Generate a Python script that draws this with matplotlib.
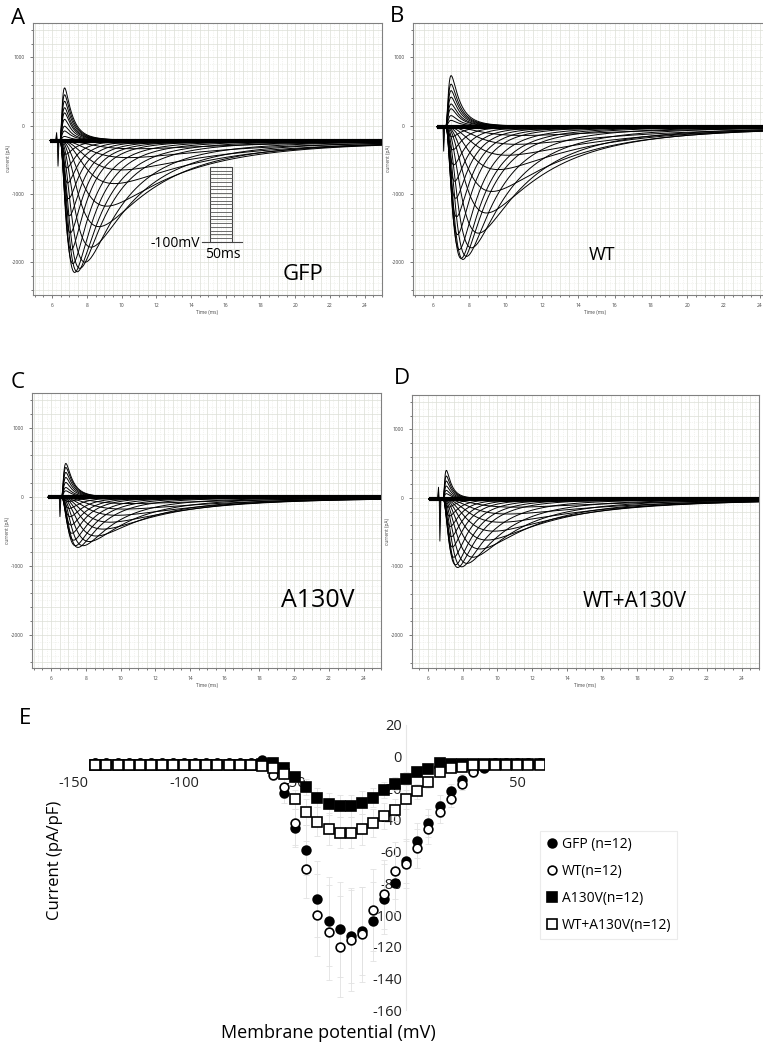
import numpy as np
import matplotlib.pyplot as plt
from matplotlib.ticker import MultipleLocator

plt.rcParams['font.family'] = ['Open Sans', 'DejaVu Sans']
plt.rcParams['axes.unicode_minus'] = False

W, H = 763, 1047

# ---- current traces (A-D): peak current (pA, relative to holding) and time of peak (ms)
gfp_peak_pA = [-40, -120, -250, -430, -630, -960, -1260, -1560, -1780, -1870, -1920, -1930,
               -1800, -1600, -1350, -1100, -850, -620, -400, -200,
               60, 140, 210, 310, 405, 480, 575, 670, 770]
gfp_peak_ms = [11.0, 10.8, 10.4, 10.0, 9.6, 9.15, 8.7, 8.25, 7.9, 7.6, 7.45, 7.3,
               7.2, 7.1, 7.05, 7.0, 6.95, 6.9, 6.85, 6.8,
               6.72, 6.72, 6.72, 6.72, 6.72, 6.72, 6.72, 6.72, 6.72]

wt_peak_pA = [-40, -130, -260, -420, -630, -950, -1265, -1560, -1775, -1900, -1945, -1930,
              -1800, -1580, -1320, -1050, -800, -560, -340, -150,
              90, 160, 260, 330, 430, 525, 620, 745]
wt_peak_ms = [11.5, 11.0, 10.6, 10.1, 9.6, 9.25, 8.95, 8.5, 8.12, 7.85, 7.65, 7.55,
              7.45, 7.35, 7.3, 7.25, 7.2, 7.15, 7.1, 7.05,
              7.0, 7.0, 7.0, 7.0, 7.0, 7.0, 7.0, 7.0]

a130v_peak_pA = [-30, -90, -170, -260, -360, -460, -560, -640, -700, -725,
                 -700, -620, -520, -400, -280, -160, -60,
                 94, 142, 215, 287, 360, 432, 490]
a130v_peak_ms = [11.0, 10.6, 10.2, 9.8, 9.4, 9.0, 8.6, 8.2, 7.85, 7.55,
                 7.4, 7.3, 7.2, 7.15, 7.1, 7.05, 7.0,
                 6.85, 6.85, 6.85, 6.85, 6.85, 6.85, 6.85]

wta_peak_pA = [-40, -120, -220, -340, -470, -600, -730, -850, -940, -990, -1000,
               -960, -850, -700, -550, -400, -250, -120,
               77, 125, 188, 261, 334, 416]
wta_peak_ms = [11.5, 11.0, 10.6, 10.2, 9.8, 9.4, 9.0, 8.6, 8.25, 7.95, 7.72,
               7.6, 7.5, 7.42, 7.36, 7.3, 7.25, 7.2,
               7.07, 7.07, 7.07, 7.07, 7.07, 7.07]

# holding current, trace start, current onset, artifact time / up / down (pA)
panel_base = [-220, -15, -10, -15]
panel_start = [5.9, 6.2, 5.84, 6.08]
panel_onset = [6.45, 6.7, 6.6, 6.88]
artifact_ms = [6.3, 6.55, 6.47, 6.66]
artifact_up = [120, 20, 30, 175]
artifact_dn = [-380, -365, -285, -620]
panel_names = ["GFP", "WT", "A130V", "WT+A130V"]

# ---- I-V relation (E)
voltage = [-140, -135, -130, -125, -120, -115, -110, -105, -100, -95, -90, -85, -80, -75,
           -70, -65, -60, -55, -50, -45, -40, -35, -30, -25, -20, -15, -10, -5, 0,
           5, 10, 15, 20, 25, 30, 35, 40, 45, 50, 55, 60]
gfp_iv = [-4, -4, -4, -4, -4, -4, -4, -4, -4, -4, -4, -4, -4, -4,
          -4, -2, -9, -23, -45, -59, -90, -104, -109, -113, -110, -104, -90, -80, -66,
          -53, -42, -31, -22, -15, -9, -7, -4, -4, -4, -4, -4]
wt_iv = [-4, -4, -4, -4, -4, -4, -4, -4, -4, -4, -4, -4, -4, -4,
         -4, -5, -11.5, -19, -42, -71, -100, -111, -120, -116, -112, -97, -87, -72, -68,
         -58, -46, -35, -27, -17, -10, -6, -4, -4, -4, -4, -4]
a130v_iv = [-5, -5, -5, -5, -5, -5, -5, -5, -5, -5, -5, -5, -5, -5,
            -5, -4.5, -4, -7, -13, -19, -26, -30, -31, -31, -29, -26, -21, -17, -14,
            -10, -8, -4, -4.5, -4.5, -4.5, -4.5, -4.5, -4.5, -4.5, -4.5, -4.5]
wta_iv = [-5, -5, -5, -5, -5, -5, -5, -5, -5, -5, -5, -5, -5, -5,
          -5, -5.7, -7, -11, -27, -35, -41, -45.5, -48, -48, -46, -42, -37.5, -33.5, -27,
          -22, -16, -10, -7, -6.3, -5, -5, -5, -5, -5, -5, -5]
gfp_sem = [1, 1, 1, 1, 1, 1, 1, 1, 1, 1, 1, 1, 1, 1,
           1, 1, 3, 6, 12, 16, 24, 28, 30, 30, 28, 25, 22, 18, 14,
           11, 9, 7, 5, 4, 3, 2, 1, 1, 1, 1, 1]
wt_sem = [1, 1, 1, 1, 1, 1, 1, 1, 1, 1, 1, 1, 1, 1,
          1, 1, 3, 7, 14, 18, 26, 30, 32, 32, 30, 26, 22, 18, 15,
          12, 9, 7, 5, 4, 3, 2, 1, 1, 1, 1, 1]
a130v_sem = [1, 1, 1, 1, 1, 1, 1, 1, 1, 1, 1, 1, 1, 1,
             1, 1, 1, 2, 3, 5, 6, 7, 7, 7, 7, 6, 5, 4, 4,
             3, 2, 1, 1, 1, 1, 1, 1, 1, 1, 1, 1]
wta_sem = [1, 1, 1, 1, 1, 1, 1, 1, 1, 1, 1, 1, 1, 1,
           1, 1, 1, 3, 6, 8, 9, 10, 10, 10, 10, 9, 8, 7, 6,
           5, 4, 3, 2, 2, 1, 1, 1, 1, 1, 1, 1]

# m^3 h style current template
K_H = 4.0
F_SLOW = 0.1


def shape(x):
    x = np.clip(x, 0, None)
    return (1 - np.exp(-x)) ** 3 * ((1 - F_SLOW) * np.exp(-x / K_H) + F_SLOW * np.exp(-x / (3 * K_H)))


_xg = np.linspace(0, 20, 20001)
_sg = shape(_xg)
X_PEAK = _xg[np.argmax(_sg)]
S_PEAK = _sg.max()


def px_axes(fig, l, t, r, b):
    return fig.add_axes([l / W, 1 - b / H, (r - l) / W, (b - t) / H])


def style_trace_axes(ax, x0):
    ax.set_xlim(x0, 25)
    ax.set_ylim(-2480, 1500)
    ax.xaxis.set_major_locator(MultipleLocator(2))
    ax.xaxis.set_minor_locator(MultipleLocator(0.5))
    ax.yaxis.set_major_locator(MultipleLocator(1000))
    ax.yaxis.set_minor_locator(MultipleLocator(200))
    for tq in np.arange(5.0, 25.01, 0.5):
        ax.axvline(tq, color='#dcdfd6', lw=0.5, zorder=0)
        ax.axvline(tq + 0.25, color='#e8eae3', lw=0.5, ls=':', zorder=0)
    for iq in np.arange(-2400, 1401, 200):
        ax.axhline(iq, color='#dcdfd6', lw=0.5, zorder=0)
        ax.axhline(iq + 100, color='#e8eae3', lw=0.5, ls=':', zorder=0)
    ax.tick_params(which='both', labelsize=3.5, colors='#444', width=0.5, direction='out')
    ax.tick_params(which='major', length=2.5)
    ax.tick_params(which='minor', length=1.5)
    for s in ax.spines.values():
        s.set_color('#808080')
        s.set_linewidth(0.8)
    ax.set_xlabel("Time (ms)", fontsize=3.5, labelpad=1, color='#444')
    ax.set_ylabel("current (pA)", fontsize=3.5, labelpad=1, color='#444')


def draw_traces(ax, amps, peaks, k):
    base, t0, ton, ta = panel_base[k], panel_start[k], panel_onset[k], artifact_ms[k]
    t = np.linspace(t0, 25, 3000)
    ax.plot([t0, 25], [base, base], color='black', lw=3.0, solid_capstyle='butt', zorder=3)
    for a, tp in zip(amps, peaks):
        tau = (tp - ton) / X_PEAK
        ax.plot(t, base + a * shape((t - ton) / tau) / S_PEAK, color='black', lw=0.7, zorder=3)
    ax.fill([ta - 0.1, ta - 0.04, ta, ta + 0.04, ta + 0.1],
            [base, base + artifact_up[k], base, base + artifact_dn[k], base],
            color='black', lw=0.6, zorder=4)


fig = plt.figure(figsize=(W / 100, H / 100), dpi=100)

ax_a = px_axes(fig, 33, 23, 382, 295)
ax_b = px_axes(fig, 413, 23, 778, 295)
ax_c = px_axes(fig, 32, 393, 381, 668)
ax_d = px_axes(fig, 412, 395, 759, 668)
trace_axes = [ax_a, ax_b, ax_c, ax_d]
trace_data = [(gfp_peak_pA, gfp_peak_ms), (wt_peak_pA, wt_peak_ms),
              (a130v_peak_pA, a130v_peak_ms), (wta_peak_pA, wta_peak_ms)]
x_left = [4.9, 4.9, 4.9, 5.1]

for k, ax in enumerate(trace_axes):
    style_trace_axes(ax, x_left[k])
    draw_traces(ax, trace_data[k][0], trace_data[k][1], k)

name_pos = [(0.774, 0.074, 16), (0.518, 0.147, 13), (0.82, 0.247, 18), (0.643, 0.242, 15)]
for k, ax in enumerate(trace_axes):
    fx, fy, fs = name_pos[k]
    ax.text(fx, fy, panel_names[k], transform=ax.transAxes, ha='center', va='center',
            fontsize=fs, zorder=6)

# voltage protocol sketch in A
proto = dict(color='#444444', lw=0.8, transform=ax_a.transAxes, zorder=5)
ax_a.plot([0.484, 0.599], [0.195, 0.195], **proto)
ax_a.plot([0.507, 0.507, 0.570, 0.570], [0.195, 0.471, 0.471, 0.195], **proto)
for fy in np.linspace(0.195, 0.471, 21)[1:-1]:
    ax_a.plot([0.507, 0.570], [fy, fy], color='#555555', lw=0.6, transform=ax_a.transAxes, zorder=5)
ax_a.text(0.478, 0.19, "-100mV", transform=ax_a.transAxes, ha='right', va='center', fontsize=10, zorder=6)
ax_a.text(0.543, 0.15, "50ms", transform=ax_a.transAxes, ha='center', va='center', fontsize=10, zorder=6)

# ---- panel E
ax_e = px_axes(fig, 62, 717, 544, 1018)
ax_e.set_xlim(-155, 62)
ax_e.set_ylim(-165, 25)
series = [(gfp_iv, gfp_sem, 'o', 'black', 6.3, "GFP (n=12)"),
          (wt_iv, wt_sem, 'o', 'white', 6.3, "WT(n=12)"),
          (a130v_iv, a130v_sem, 's', 'black', 6.8, "A130V(n=12)"),
          (wta_iv, wta_sem, 's', 'white', 6.8, "WT+A130V(n=12)")]
handles = []
for vals, sem, mk, fc, ms, lab in series:
    ax_e.errorbar(voltage, vals, yerr=sem, fmt='none', ecolor='#e2e2e2', elinewidth=0.6,
                  capsize=2, capthick=0.6, zorder=2.7)
for vals, sem, mk, fc, ms, lab in series:
    h, = ax_e.plot(voltage, vals, mk, ms=ms, mfc=fc, mec='black', mew=1.2, ls='none',
                   zorder=3, label=lab)
    handles.append(h)

ax_e.spines['left'].set_position(('data', 0))
ax_e.spines['left'].set_color('#e6e6e6')
ax_e.spines['left'].set_bounds(-160, 20)
ax_e.spines['bottom'].set_position(('data', 0))
ax_e.spines['bottom'].set_visible(False)
ax_e.spines['top'].set_visible(False)
ax_e.spines['right'].set_visible(False)
ax_e.set_xticks([-150, -100, -50, 50])
ax_e.set_yticks(np.arange(-160, 21, 20))
ax_e.tick_params(axis='x', length=0, pad=14, labelsize=10.5, colors='#222')
ax_e.tick_params(axis='y', length=0, pad=3, labelsize=10.5, colors='#222')
ax_e.patch.set_visible(False)

leg = fig.legend(handles=handles, loc='upper left', bbox_to_anchor=(540 / W, 1 - 831 / H),
                 frameon=True, fancybox=False, fontsize=10, handlelength=0.8,
                 handletextpad=0.3, labelspacing=0.85, borderpad=0.45, borderaxespad=0)
leg.get_frame().set_edgecolor('#e6e6e6')
leg.get_frame().set_linewidth(0.8)

fig.text(55 / W, 1 - 860 / H, "Current (pA/pF)", rotation=90, ha='center', va='center', fontsize=12)
fig.text(328 / W, 1 - 1033 / H, "Membrane potential (mV)", ha='center', va='center', fontsize=13)

for lab, x, y in [("A", 18, 18), ("B", 397, 17), ("C", 18, 382), ("D", 402, 379), ("E", 25, 718)]:
    fig.text(x / W, 1 - y / H, lab, ha='center', va='center', fontsize=16)

fig.savefig("out.png", dpi=100)
